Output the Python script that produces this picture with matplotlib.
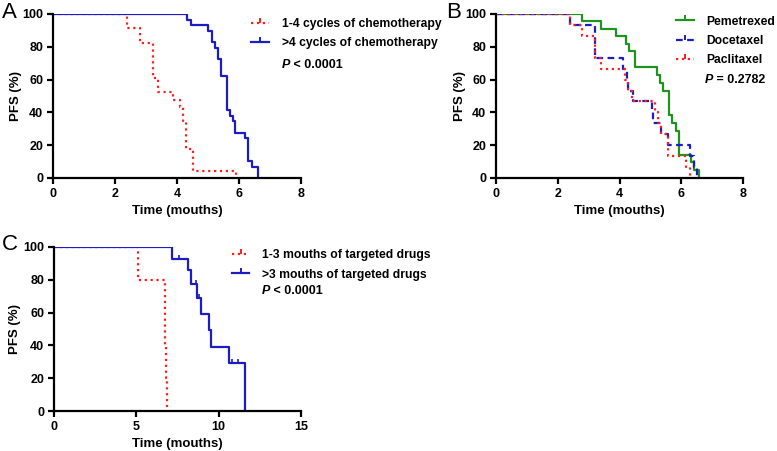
import matplotlib
matplotlib.use('Agg')
import matplotlib.pyplot as plt
from matplotlib.lines import Line2D
from matplotlib.path import Path

plt.rcParams['font.family'] = ['Liberation Sans', 'DejaVu Sans']

# ---------------- data ----------------
# Panel A
a_short_t = [0, 2.4, 2.8, 3.22, 3.4, 3.88, 4.1, 4.19, 4.29, 4.5, 5.9]
a_short_s = [100, 91.3, 82.6, 60.9, 52.2, 47.8, 43.5, 34.8, 17.4, 4.3, 0]
a_long_t = [0, 4.33, 4.44, 5.0, 5.12, 5.23, 5.33, 5.43, 5.6, 5.71, 5.81, 5.88, 6.19, 6.3, 6.41, 6.6]
a_long_s = [100, 96.6, 93.1, 89.7, 82.8, 79.3, 72.4, 62.1, 41.4, 37.9, 34.5, 27.6, 24.1, 10.3, 6.9, 0]
a_labels = ['1-4 cycles of chemotherapy', '>4 cycles of chemotherapy']
a_p = '< 0.0001'

# Panel B
b_pem_t = [0, 2.8, 3.4, 3.9, 4.21, 4.31, 4.5, 5.2, 5.3, 5.41, 5.61, 5.71, 5.82, 5.93, 6.31, 6.4, 6.58]
b_pem_s = [100, 95.5, 90.9, 86.4, 81.8, 77.3, 67.8, 62.7, 58.0, 53.2, 38.3, 33.8, 28.7, 14.3, 9.8, 4.7, 0]
b_doc_t = [0, 2.39, 3.22, 4.1, 4.24, 4.28, 4.44, 5.04, 5.1, 5.36, 5.58, 6.28, 6.42, 6.51]
b_doc_s = [100, 93.3, 73.3, 66.7, 60.0, 53.3, 46.7, 40.0, 33.3, 26.7, 20.0, 13.3, 6.7, 0]
b_pac_t = [0, 2.39, 2.8, 3.22, 3.39, 4.17, 4.28, 4.39, 5.15, 5.25, 5.36, 5.58, 6.17, 6.28]
b_pac_s = [100, 93.3, 86.7, 73.3, 66.7, 60.0, 53.3, 46.7, 40.0, 33.3, 26.7, 13.3, 6.7, 0]
b_labels = ['Pemetrexed', 'Docetaxel', 'Paclitaxel']
b_p = '= 0.2782'

# Panel C
c_short_t = [0, 5.08, 6.72, 6.8, 6.88]
c_short_s = [100, 80, 40, 20, 0]
c_long_t = [0, 7.18, 8.16, 8.3, 8.7, 8.93, 9.43, 9.51, 10.63, 11.6]
c_long_s = [100, 92.9, 85.7, 77.4, 69.0, 58.9, 49.4, 39.3, 29.5, 0]
c_long_cens_t = [7.58, 8.6, 8.8, 10.83, 11.2]
c_long_cens_s = [92.9, 77.4, 69.0, 29.5, 29.5]
c_labels = ['1-3 mouths of targeted drugs', '>3 mouths of targeted drugs']
c_p = '< 0.0001'

xlabel = 'Time (mouths)'
ylabel = 'PFS (%)'
yticks = [0, 20, 40, 60, 80, 100]

# ---------------- style ----------------
RED = '#ff1e1e'
BLUE = '#1c1cc4'
GREEN = '#1f931f'
TICK = Path([(0, 0), (0, 1)])
W, H = 777, 451

fig = plt.figure(figsize=(W / 100, H / 100), dpi=100)


def make_ax(x0, x1, ytop, ybot, ylab_center_px):
    ax = fig.add_axes([x0 / W, 1 - ybot / H, (x1 - x0) / W, (ybot - ytop) / H])
    for s in ['top', 'right']:
        ax.spines[s].set_visible(False)
    for s in ['left', 'bottom']:
        ax.spines[s].set_linewidth(1.6)
    ax.tick_params(width=1.6, length=4.5, labelsize=9, pad=2.5)
    ax.set_ylim(0, 100)
    ax.set_yticks(yticks)
    ax.set_xlabel(xlabel, fontsize=9.5, fontweight='bold', labelpad=3.5)
    ax.set_ylabel(ylabel, fontsize=9.5, fontweight='bold')
    ax.yaxis.label.set_va('center')
    ax.yaxis.set_label_coords((ylab_center_px - x0) / (x1 - x0), 0.5)
    return ax


def bold_ticks(ax):
    for lab in ax.get_xticklabels() + ax.get_yticklabels():
        lab.set_fontweight('bold')


def pval(ax, x, y, txt):
    t = ax.text(x, y, 'P', transform=ax.transAxes, fontsize=9, fontweight='bold',
                fontstyle='italic', va='center', ha='left')
    ax.annotate(' ' + txt, xy=(1, 0.5), xycoords=t, fontsize=9, fontweight='bold',
                va='center', ha='left')


def handle(color, ls):
    return Line2D([], [], color=color, lw=1.6, linestyle=ls, marker=TICK,
                  markersize=7, markeredgewidth=1.4, markeredgecolor=color)


leg_kw = dict(loc='upper left', frameon=False, borderpad=0, borderaxespad=0,
              handlelength=1.45, handletextpad=1.05, labelspacing=0.6, numpoints=1,
              prop={'weight': 'bold', 'size': 8.7})

# ---------------- Panel A ----------------
axA = make_ax(53, 301, 14, 178, 16)
axA.step(a_short_t, a_short_s, where='post', color=RED, lw=1.6, linestyle=':')
axA.step(a_long_t, a_long_s, where='post', color=BLUE, lw=1.6)
axA.set_xlim(0, 8)
axA.set_xticks([0, 2, 4, 6, 8])
bold_ticks(axA)
axA.legend([handle(RED, ':'), handle(BLUE, '-')], a_labels,
           bbox_to_anchor=(0.8, 0.975), **leg_kw)
pval(axA, 0.922, 0.69, a_p)

# ---------------- Panel B ----------------
axB = make_ax(496, 743, 14, 178, 460)
axB.step(b_pem_t, b_pem_s, where='post', color=GREEN, lw=1.6)
axB.step(b_doc_t, b_doc_s, where='post', color=BLUE, lw=1.6, linestyle=(0, (3, 2)))
axB.step(b_pac_t, b_pac_s, where='post', color=RED, lw=1.6, linestyle=':')
axB.set_xlim(0, 8)
axB.set_xticks([0, 2, 4, 6, 8])
bold_ticks(axB)
axB.legend([handle(GREEN, '-'), handle(BLUE, (0, (3, 2))), handle(RED, ':')], b_labels,
           bbox_to_anchor=(0.73, 0.99), **leg_kw)
pval(axB, 0.845, 0.60, b_p)

# ---------------- Panel C ----------------
axC = make_ax(54, 301, 247, 411, 15)
axC.step(c_short_t, c_short_s, where='post', color=RED, lw=1.6, linestyle=':')
axC.step(c_long_t, c_long_s, where='post', color=BLUE, lw=1.6)
axC.plot(c_long_cens_t, c_long_cens_s, linestyle='none', marker=TICK, markersize=6,
         markeredgewidth=1.2, color=BLUE)
axC.set_xlim(0, 15)
axC.set_xticks([0, 5, 10, 15])
bold_ticks(axC)
axC.legend([handle(RED, ':'), handle(BLUE, '-')], c_labels,
           bbox_to_anchor=(0.72, 0.985), **leg_kw)
pval(axC, 0.84, 0.73, c_p)

# panel letters
fig.text(2 / W, 1 - 13 / H, 'A', fontsize=16, va='center', ha='left')
fig.text(446 / W, 1 - 13 / H, 'B', fontsize=16, va='center', ha='left')
fig.text(2 / W, 1 - 244 / H, 'C', fontsize=16, va='center', ha='left')

fig.savefig('out.png', dpi=100)
